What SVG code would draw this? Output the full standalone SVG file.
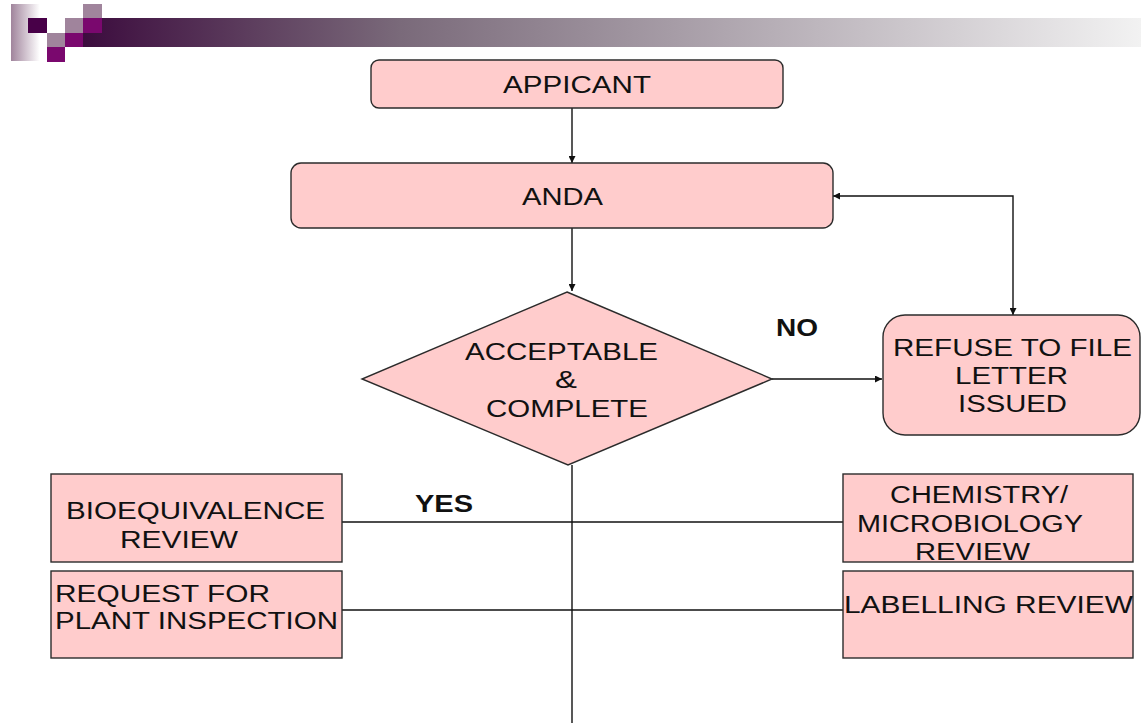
<svg xmlns="http://www.w3.org/2000/svg" width="1141" height="723" viewBox="0 0 1141 723">
<style>
.box{fill:#ffcccc;stroke:#2b2b2b;stroke-width:1.4}
.t{font-family:"Liberation Sans",Arial,sans-serif;font-size:23.5px;fill:#111}
.b{font-family:"Liberation Sans",Arial,sans-serif;font-size:23.5px;font-weight:bold;fill:#111}
.c{fill:none;stroke:#111;stroke-width:1.4}
.m{fill:#a0849c}.d{fill:#480048}.p{fill:#7a086e}
</style>
<defs>
<linearGradient id="bar" x1="0" x2="1" y1="0" y2="0">
<stop offset="0" stop-color="#3c0c3e"/>
<stop offset="0.3" stop-color="#7a6a7a"/>
<stop offset="1" stop-color="#f2f2f2"/>
</linearGradient>
<linearGradient id="side" x1="0" x2="1" y1="0" y2="0">
<stop offset="0" stop-color="#a0849c"/>
<stop offset="0.8" stop-color="#ffffff"/>
</linearGradient>
<marker id="ah" viewBox="0 0 10 10" refX="10" refY="5" markerWidth="7" markerHeight="7" markerUnits="userSpaceOnUse" orient="auto-start-reverse">
<path d="M0,0 L10,5 L0,10 z" fill="#111"/>
</marker>
</defs>
<g id="decoration">
<rect x="83" y="18" width="1058" height="29" fill="url(#bar)"/>
<rect x="11" y="4" width="36" height="57" fill="url(#side)"/>
<rect class="d" x="28" y="18" width="19" height="15"/>
<rect class="m" x="47" y="33" width="18" height="14"/>
<rect class="p" x="65" y="33" width="18" height="14"/>
<rect class="m" x="65" y="18" width="18" height="15"/>
<rect class="p" x="83" y="18" width="19" height="15"/>
<rect class="m" x="83" y="4" width="19" height="14"/>
<rect class="p" x="47" y="47" width="18" height="15"/>
</g>
<g id="connectors">
<line class="c" x1="572" y1="108" x2="572" y2="163" marker-end="url(#ah)"/>
<line class="c" x1="572" y1="228" x2="572" y2="291" marker-end="url(#ah)"/>
<line class="c" x1="772" y1="379" x2="882" y2="379" marker-end="url(#ah)"/>
<path class="c" d="M833,196 H1013 V315" marker-start="url(#ah)" marker-end="url(#ah)"/>
<line class="c" x1="572" y1="465" x2="572" y2="723"/>
<line class="c" x1="342" y1="522" x2="843" y2="522"/>
<line class="c" x1="342" y1="610" x2="843" y2="610"/>
<text class="b" x="776" y="336" textLength="42" lengthAdjust="spacingAndGlyphs">NO</text>
<text class="b" x="415" y="512" textLength="58" lengthAdjust="spacingAndGlyphs">YES</text>
</g>
<g id="applicant">
<rect class="box" x="371" y="60" width="412" height="48" rx="8"/>
<text class="t" x="503" y="93" textLength="148" lengthAdjust="spacingAndGlyphs">APPICANT</text>
</g>
<g id="anda">
<rect class="box" x="291" y="163" width="542" height="65" rx="10"/>
<text class="t" x="522" y="205" textLength="81" lengthAdjust="spacingAndGlyphs">ANDA</text>
</g>
<g id="decision">
<polygon class="box" points="567,292 772,379 568,465 362,379"/>
<text class="t" x="465" y="360" textLength="193" lengthAdjust="spacingAndGlyphs">ACCEPTABLE</text>
<text class="t" x="555" y="388" textLength="22" lengthAdjust="spacingAndGlyphs">&amp;</text>
<text class="t" x="486" y="417" textLength="162" lengthAdjust="spacingAndGlyphs">COMPLETE</text>
</g>
<g id="refuse">
<rect class="box" x="883" y="315" width="257" height="120" rx="22"/>
<text class="t" x="893" y="356" textLength="239" lengthAdjust="spacingAndGlyphs">REFUSE TO FILE</text>
<text class="t" x="955" y="384" textLength="113" lengthAdjust="spacingAndGlyphs">LETTER</text>
<text class="t" x="958" y="412" textLength="109" lengthAdjust="spacingAndGlyphs">ISSUED</text>
</g>
<g id="bioequivalence">
<rect class="box" x="51" y="474" width="291" height="88"/>
<text class="t" x="66" y="519" textLength="259" lengthAdjust="spacingAndGlyphs">BIOEQUIVALENCE</text>
<text class="t" x="120" y="548" textLength="118" lengthAdjust="spacingAndGlyphs">REVIEW</text>
</g>
<g id="plant-inspection">
<rect class="box" x="51" y="571" width="291" height="87"/>
<text class="t" x="55" y="602" textLength="215" lengthAdjust="spacingAndGlyphs">REQUEST FOR</text>
<text class="t" x="55" y="629" textLength="283" lengthAdjust="spacingAndGlyphs">PLANT INSPECTION</text>
</g>
<g id="chemistry">
<rect class="box" x="843" y="474" width="290" height="88"/>
<text class="t" x="890" y="503" textLength="178" lengthAdjust="spacingAndGlyphs">CHEMISTRY/</text>
<text class="t" x="857" y="532" textLength="226" lengthAdjust="spacingAndGlyphs">MICROBIOLOGY</text>
<text class="t" x="915" y="560" textLength="115" lengthAdjust="spacingAndGlyphs">REVIEW</text>
</g>
<g id="labelling">
<rect class="box" x="843" y="571" width="290" height="87"/>
<text class="t" x="844" y="613" textLength="289" lengthAdjust="spacingAndGlyphs">LABELLING REVIEW</text>
</g>
</svg>
